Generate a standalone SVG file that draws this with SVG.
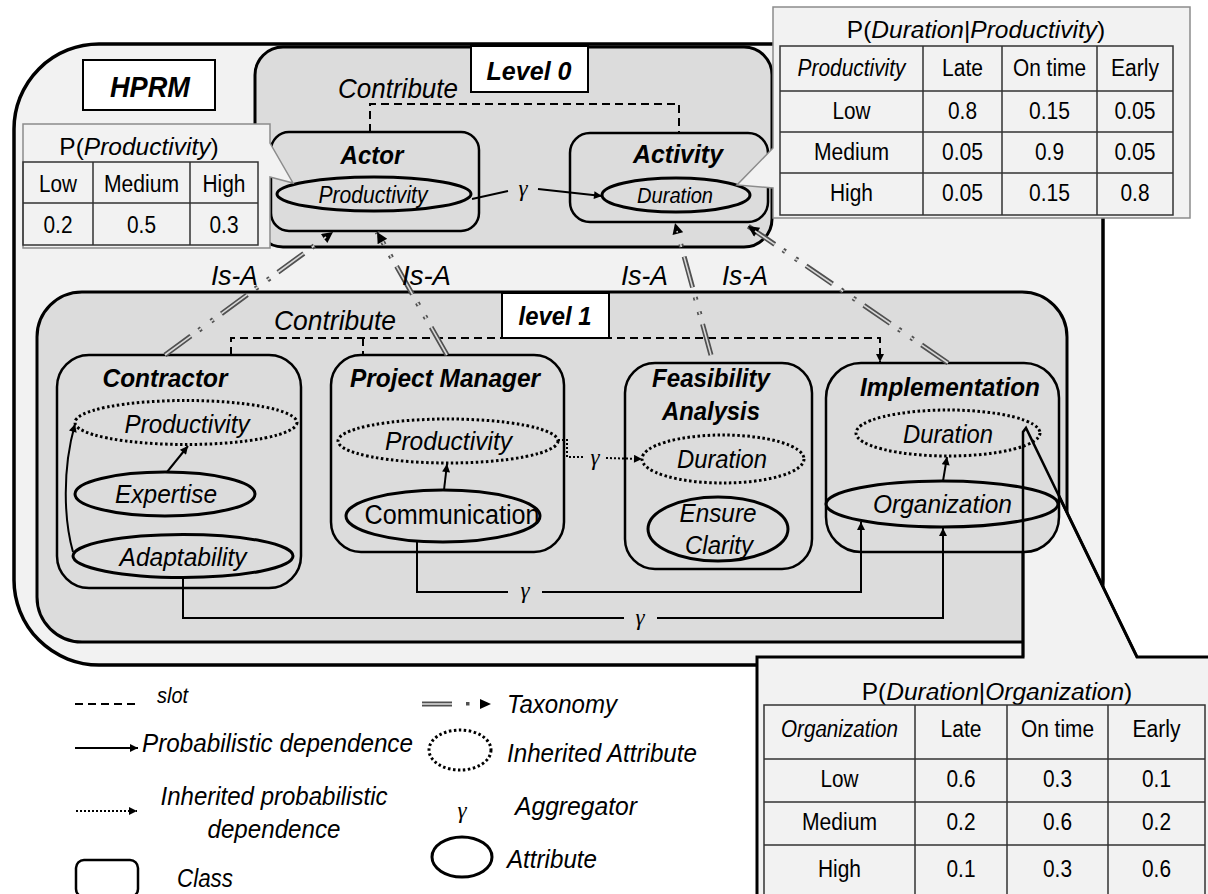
<svg xmlns="http://www.w3.org/2000/svg" width="1208" height="894" viewBox="0 0 1208 894">
<defs>
<style>
text{font-family:"Liberation Sans",Arial,sans-serif;fill:#000}
.c{text-anchor:middle}
.bi{font-weight:bold;font-style:italic}
.i{font-style:italic}
.g{font-family:"Liberation Serif","Times New Roman",serif;font-style:italic;font-size:23px;text-anchor:middle}
.cont{fill:#dcdcdc;stroke:#000;stroke-width:3}
.cls{fill:#dcdcdc;stroke:#000;stroke-width:2.5}
.att{fill:none;stroke:#000;stroke-width:3}
.inh{fill:none;stroke:#000;stroke-width:3;stroke-dasharray:2.5 2.5}
.dep{fill:none;stroke:#000;stroke-width:2}
.idep{fill:none;stroke:#000;stroke-width:2;stroke-dasharray:2 2}
.slot{fill:none;stroke:#000;stroke-width:2;stroke-dasharray:8 5}
.taxo{fill:none;stroke:#505050;stroke-width:5;stroke-dasharray:32 10 3 12 3 10}
.taxi{fill:none;stroke:#d8d8d8;stroke-width:1.6;stroke-dasharray:32 10 3 12 3 10}
.tbl{fill:none;stroke:#333;stroke-width:1.5}
.call{fill:#f2f2f2;stroke:#8c8c8c;stroke-width:1.5}
.lbl{fill:#fff;stroke:#000;stroke-width:2}
.ttl{font-size:24.5px;text-anchor:middle}
.t23{font-size:23px}
.t26{font-size:26px}
.t28{font-size:28px}
</style>
<marker id="ah" viewBox="0 0 10 10" refX="10" refY="5" markerWidth="10" markerHeight="8" markerUnits="userSpaceOnUse" orient="auto"><path d="M0,0 L10,5 L0,10 z" fill="#000"/></marker>
<marker id="tah" viewBox="0 0 10 10" refX="10" refY="5" markerWidth="13" markerHeight="11" markerUnits="userSpaceOnUse" orient="auto"><path d="M0,0 L10,5 L0,10 z" fill="#000"/></marker>
</defs>

<g id="hprm">
<rect x="14" y="44" width="1089" height="621" rx="85" fill="#f2f2f2" stroke="#000" stroke-width="3.5"/>
<rect class="lbl" x="83" y="60" width="132" height="50"/>
<text class="bi c" x="150" y="97" font-size="29" textLength="80" lengthAdjust="spacingAndGlyphs">HPRM</text>
</g>

<g id="level0">
<rect class="cont" x="255" y="47" width="517" height="200" rx="28"/>
<text class="i c t28" x="398" y="98" textLength="120" lengthAdjust="spacingAndGlyphs">Contribute</text>
</g>

<g id="level1">
<rect class="cont" x="37" y="292" width="1030" height="350" rx="45"/>
<text class="i c t28" x="335" y="330" textLength="122" lengthAdjust="spacingAndGlyphs">Contribute</text>
</g>

<g id="table-organization">
<path d="M757 905 V657 H1023 V432 L1026 428 L1137 657 H1215 V905 Z" fill="#f2f2f2" stroke="#000" stroke-width="3"/>
<text class="ttl" x="997" y="700">P(<tspan font-style="italic">Duration</tspan>|<tspan font-style="italic">Organization</tspan>)</text>
<rect class="tbl" x="764" y="705" width="441" height="195"/>
<path class="tbl" d="M764 759 H1205 M764 802 H1205 M764 845 H1205 M915 705 V900 M1007 705 V900 M1108 705 V900"/>
<g class="c t23">
<text class="i" x="839.5" y="737" textLength="117" lengthAdjust="spacingAndGlyphs">Organization</text><text x="961" y="737" textLength="41" lengthAdjust="spacingAndGlyphs">Late</text><text x="1057.5" y="737" textLength="73" lengthAdjust="spacingAndGlyphs">On time</text><text x="1156.5" y="737" textLength="48" lengthAdjust="spacingAndGlyphs">Early</text>
<text x="839.5" y="787" textLength="38" lengthAdjust="spacingAndGlyphs">Low</text><text x="961" y="787" textLength="29" lengthAdjust="spacingAndGlyphs">0.6</text><text x="1057.5" y="787" textLength="29" lengthAdjust="spacingAndGlyphs">0.3</text><text x="1156.5" y="787" textLength="29" lengthAdjust="spacingAndGlyphs">0.1</text>
<text x="839.5" y="830" textLength="75" lengthAdjust="spacingAndGlyphs">Medium</text><text x="961" y="830" textLength="29" lengthAdjust="spacingAndGlyphs">0.2</text><text x="1057.5" y="830" textLength="29" lengthAdjust="spacingAndGlyphs">0.6</text><text x="1156.5" y="830" textLength="29" lengthAdjust="spacingAndGlyphs">0.2</text>
<text x="839.5" y="877" textLength="43" lengthAdjust="spacingAndGlyphs">High</text><text x="961" y="877" textLength="29" lengthAdjust="spacingAndGlyphs">0.1</text><text x="1057.5" y="877" textLength="29" lengthAdjust="spacingAndGlyphs">0.3</text><text x="1156.5" y="877" textLength="29" lengthAdjust="spacingAndGlyphs">0.6</text>
</g>
</g>

<g id="actor">
<rect class="cls" x="271" y="132" width="208" height="99" rx="18"/>
<text class="bi c t26" x="372" y="164" textLength="63" lengthAdjust="spacingAndGlyphs">Actor</text>
<ellipse class="att" cx="374" cy="194" rx="97" ry="17"/>
<text class="i c t23" x="373" y="203" textLength="109" lengthAdjust="spacingAndGlyphs">Productivity</text>
</g>

<g id="activity">
<rect class="cls" x="570" y="133" width="198" height="89" rx="20"/>
<text class="bi c t26" x="678" y="163" textLength="90" lengthAdjust="spacingAndGlyphs">Activity</text>
<ellipse class="att" cx="676" cy="195" rx="74" ry="17"/>
<text class="i c" x="675" y="203" font-size="22" textLength="76" lengthAdjust="spacingAndGlyphs">Duration</text>
</g>

<g id="contractor">
<rect class="cls" x="57" y="355" width="244" height="233" rx="32"/>
<text class="bi c t26" x="165" y="387" textLength="125" lengthAdjust="spacingAndGlyphs">Contractor</text>
<ellipse class="inh" cx="186" cy="422.5" rx="111" ry="22"/>
<text class="i c t26" x="187" y="433" textLength="125" lengthAdjust="spacingAndGlyphs">Productivity</text>
<ellipse class="att" cx="165" cy="494" rx="90" ry="22"/>
<text class="i c t26" x="166" y="503" textLength="102" lengthAdjust="spacingAndGlyphs">Expertise</text>
<ellipse class="att" cx="183" cy="556" rx="110" ry="21.5"/>
<text class="i c t26" x="183" y="566" textLength="127" lengthAdjust="spacingAndGlyphs">Adaptability</text>
</g>

<g id="project-manager">
<rect class="cls" x="331" y="355" width="233" height="197" rx="30"/>
<text class="bi c t26" x="445" y="387" textLength="190" lengthAdjust="spacingAndGlyphs">Project Manager</text>
<ellipse class="inh" cx="448" cy="441" rx="110" ry="22"/>
<text class="i c t26" x="448.5" y="450" textLength="127" lengthAdjust="spacingAndGlyphs">Productivity</text>
<ellipse class="att" cx="443" cy="516" rx="97" ry="26"/>
<text class="c" x="452" y="524" font-size="27" textLength="175" lengthAdjust="spacingAndGlyphs">Communication</text>
</g>

<g id="feasibility-analysis">
<rect class="cls" x="625" y="363" width="187" height="206" rx="30"/>
<text class="bi c t26" x="711" y="387" textLength="118" lengthAdjust="spacingAndGlyphs">Feasibility</text>
<text class="bi c t26" x="711" y="420" textLength="98" lengthAdjust="spacingAndGlyphs">Analysis</text>
<ellipse class="inh" cx="723" cy="459" rx="81" ry="24"/>
<text class="i c t26" x="722" y="468" textLength="90" lengthAdjust="spacingAndGlyphs">Duration</text>
<ellipse class="att" cx="718" cy="529" rx="70" ry="32"/>
<text class="i c t26" x="718" y="522" textLength="77" lengthAdjust="spacingAndGlyphs">Ensure</text>
<text class="i c t26" x="719" y="554" textLength="68" lengthAdjust="spacingAndGlyphs">Clarity</text>
</g>

<g id="implementation">
<rect class="cls" x="826" y="363" width="233" height="189" rx="35"/>
<text class="bi c t26" x="950" y="396" textLength="180" lengthAdjust="spacingAndGlyphs">Implementation</text>
<ellipse class="inh" cx="948" cy="433" rx="92" ry="23"/>
<text class="i c t26" x="948" y="443" textLength="90" lengthAdjust="spacingAndGlyphs">Duration</text>
<ellipse class="att" cx="942" cy="504" rx="116" ry="23"/>
<text class="i c t26" x="942.5" y="513" textLength="139" lengthAdjust="spacingAndGlyphs">Organization</text>
</g>

<g id="connectors">
<polyline class="slot" points="370,132 370,104 679,104 679,133"/>
<polyline class="slot" points="231,355 231,338 880,338 880,362" marker-end="url(#ah)"/>
<line class="slot" x1="363" y1="338" x2="363" y2="355"/>
<line class="dep" x1="472" y1="199" x2="508" y2="191"/>
<line class="dep" x1="538" y1="189" x2="602" y2="196" marker-end="url(#ah)"/>
<text class="g" x="523" y="196">γ</text>
<polyline class="idep" points="558,440 567,440 567,457 583,457"/>
<text class="g" x="595" y="465">γ</text>
<line class="idep" x1="606" y1="458" x2="642" y2="459" marker-end="url(#ah)"/>
<polyline class="dep" points="417,542 417,592 508,592"/>
<text class="g" x="525" y="598">γ</text>
<polyline class="dep" points="542,592 861,592 861,522" marker-end="url(#ah)"/>
<polyline class="dep" points="183,578 183,618 624,618"/>
<text class="g" x="640" y="625">γ</text>
<polyline class="dep" points="657,618 943,618 943,528" marker-end="url(#ah)"/>
<line class="dep" x1="167" y1="472" x2="188" y2="446" marker-end="url(#ah)"/>
<path class="dep" d="M73 552 C64 520 62 470 75 424" marker-end="url(#ah)"/>
<line class="dep" x1="444" y1="490" x2="447" y2="464" marker-end="url(#ah)"/>
<line class="dep" x1="943" y1="481" x2="947" y2="457" marker-end="url(#ah)"/>
<g id="is-a">
<line class="taxo" x1="165" y1="355" x2="333" y2="232" marker-end="url(#tah)"/>
<line class="taxi" x1="165" y1="355" x2="326" y2="237"/>
<line class="taxo" x1="447" y1="355" x2="377" y2="232" marker-end="url(#tah)"/>
<line class="taxi" x1="447" y1="355" x2="381" y2="239"/>
<line class="taxo" x1="711" y1="355" x2="675" y2="223" marker-end="url(#tah)"/>
<line class="taxi" x1="711" y1="355" x2="677" y2="231"/>
<line class="taxo" x1="948" y1="363" x2="748" y2="226" marker-end="url(#tah)"/>
<line class="taxi" x1="948" y1="363" x2="755" y2="231"/>
</g>
<g class="i t28">
<text x="211" y="285" textLength="47" lengthAdjust="spacingAndGlyphs">Is-A</text>
<text x="402" y="285" textLength="49" lengthAdjust="spacingAndGlyphs">Is-A</text>
<text x="621" y="285" textLength="47" lengthAdjust="spacingAndGlyphs">Is-A</text>
<text x="722" y="285" textLength="46" lengthAdjust="spacingAndGlyphs">Is-A</text>
</g>
</g>

<g id="level-labels">
<rect class="lbl" x="471" y="46" width="117" height="46"/>
<text class="bi c t26" x="529" y="80" textLength="85" lengthAdjust="spacingAndGlyphs">Level 0</text>
<rect class="lbl" x="502" y="293" width="107" height="45"/>
<text class="bi c t26" x="555" y="325" textLength="73" lengthAdjust="spacingAndGlyphs">level 1</text>
</g>

<g id="table-productivity">
<path class="call" d="M23 124 H270 V143 L293 183 L270 177 V248 H23 Z"/>
<text class="ttl" x="139" y="155">P(<tspan font-style="italic">Productivity</tspan>)</text>
<rect class="tbl" x="23" y="162" width="235" height="83"/>
<path class="tbl" d="M23 203 H258 M93 162 V245 M190 162 V245"/>
<g class="c t23">
<text x="58" y="192" textLength="38" lengthAdjust="spacingAndGlyphs">Low</text><text x="141.5" y="192" textLength="75" lengthAdjust="spacingAndGlyphs">Medium</text><text x="224" y="192" textLength="43" lengthAdjust="spacingAndGlyphs">High</text>
<text x="58" y="233" textLength="29" lengthAdjust="spacingAndGlyphs">0.2</text><text x="141.5" y="233" textLength="29" lengthAdjust="spacingAndGlyphs">0.5</text><text x="224" y="233" textLength="29" lengthAdjust="spacingAndGlyphs">0.3</text>
</g>
</g>

<g id="table-duration-productivity">
<path class="call" d="M773 7 H1190 V218 H773 V188 L737 185 L773 148 Z"/>
<text class="ttl" x="976" y="38">P(<tspan font-style="italic">Duration</tspan>|<tspan font-style="italic">Productivity</tspan>)</text>
<rect class="tbl" x="780" y="46" width="393" height="169"/>
<path class="tbl" d="M780 91 H1173 M780 132 H1173 M780 173 H1173 M923 46 V215 M1002 46 V215 M1097 46 V215"/>
<g class="c t23">
<text class="i" x="851.5" y="76" textLength="108" lengthAdjust="spacingAndGlyphs">Productivity</text><text x="962.5" y="76" textLength="41" lengthAdjust="spacingAndGlyphs">Late</text><text x="1049.5" y="76" textLength="73" lengthAdjust="spacingAndGlyphs">On time</text><text x="1135" y="76" textLength="48" lengthAdjust="spacingAndGlyphs">Early</text>
<text x="851.5" y="119" textLength="38" lengthAdjust="spacingAndGlyphs">Low</text><text x="962.5" y="119" textLength="29" lengthAdjust="spacingAndGlyphs">0.8</text><text x="1049.5" y="119" textLength="41" lengthAdjust="spacingAndGlyphs">0.15</text><text x="1135" y="119" textLength="41" lengthAdjust="spacingAndGlyphs">0.05</text>
<text x="851.5" y="160" textLength="75" lengthAdjust="spacingAndGlyphs">Medium</text><text x="962.5" y="160" textLength="41" lengthAdjust="spacingAndGlyphs">0.05</text><text x="1049.5" y="160" textLength="29" lengthAdjust="spacingAndGlyphs">0.9</text><text x="1135" y="160" textLength="41" lengthAdjust="spacingAndGlyphs">0.05</text>
<text x="851.5" y="201" textLength="43" lengthAdjust="spacingAndGlyphs">High</text><text x="962.5" y="201" textLength="41" lengthAdjust="spacingAndGlyphs">0.05</text><text x="1049.5" y="201" textLength="41" lengthAdjust="spacingAndGlyphs">0.15</text><text x="1135" y="201" textLength="29" lengthAdjust="spacingAndGlyphs">0.8</text>
</g>
</g>

<g id="organization-pointer">
<path d="M1023 657 V432 L1026 428 L1137 657" fill="none" stroke="#000" stroke-width="2.5"/>
</g>

<g id="legend">
<line class="slot" x1="75" y1="704" x2="137" y2="704" stroke-dasharray="8 5.5"/>
<text class="i" x="157" y="703" font-size="22" textLength="31" lengthAdjust="spacingAndGlyphs">slot</text>
<line class="dep" x1="75" y1="748" x2="138" y2="748" marker-end="url(#ah)"/>
<text class="i t26" x="142" y="752" textLength="271" lengthAdjust="spacingAndGlyphs">Probabilistic dependence</text>
<line class="idep" x1="76" y1="811" x2="137" y2="811" marker-end="url(#ah)"/>
<text class="i c t26" x="274" y="805" textLength="227" lengthAdjust="spacingAndGlyphs">Inherited probabilistic</text>
<text class="i c t26" x="274" y="838" textLength="133" lengthAdjust="spacingAndGlyphs">dependence</text>
<rect x="76" y="860" width="62" height="37" rx="8" fill="none" stroke="#000" stroke-width="2.5"/>
<text class="i t26" x="177" y="887" textLength="56" lengthAdjust="spacingAndGlyphs">Class</text>
<line x1="422" y1="704" x2="452" y2="704" stroke="#505050" stroke-width="5"/>
<line x1="422" y1="704" x2="452" y2="704" stroke="#d8d8d8" stroke-width="1.6"/>
<rect x="466" y="702" width="3.5" height="3.5" fill="#505050"/>
<path d="M480 699 L491 704 L480 709 Z" fill="#000"/>
<text class="i t26" x="507" y="713" textLength="110" lengthAdjust="spacingAndGlyphs">Taxonomy</text>
<ellipse class="inh" cx="460" cy="750" rx="31" ry="20"/>
<text class="i t26" x="507" y="762" textLength="190" lengthAdjust="spacingAndGlyphs">Inherited Attribute</text>
<text class="g" x="462" y="818">γ</text>
<text class="i t26" x="515" y="815" textLength="122" lengthAdjust="spacingAndGlyphs">Aggregator</text>
<ellipse class="att" cx="462" cy="857" rx="30" ry="20"/>
<text class="i t26" x="507" y="868" textLength="90" lengthAdjust="spacingAndGlyphs">Attribute</text>
</g>
</svg>
